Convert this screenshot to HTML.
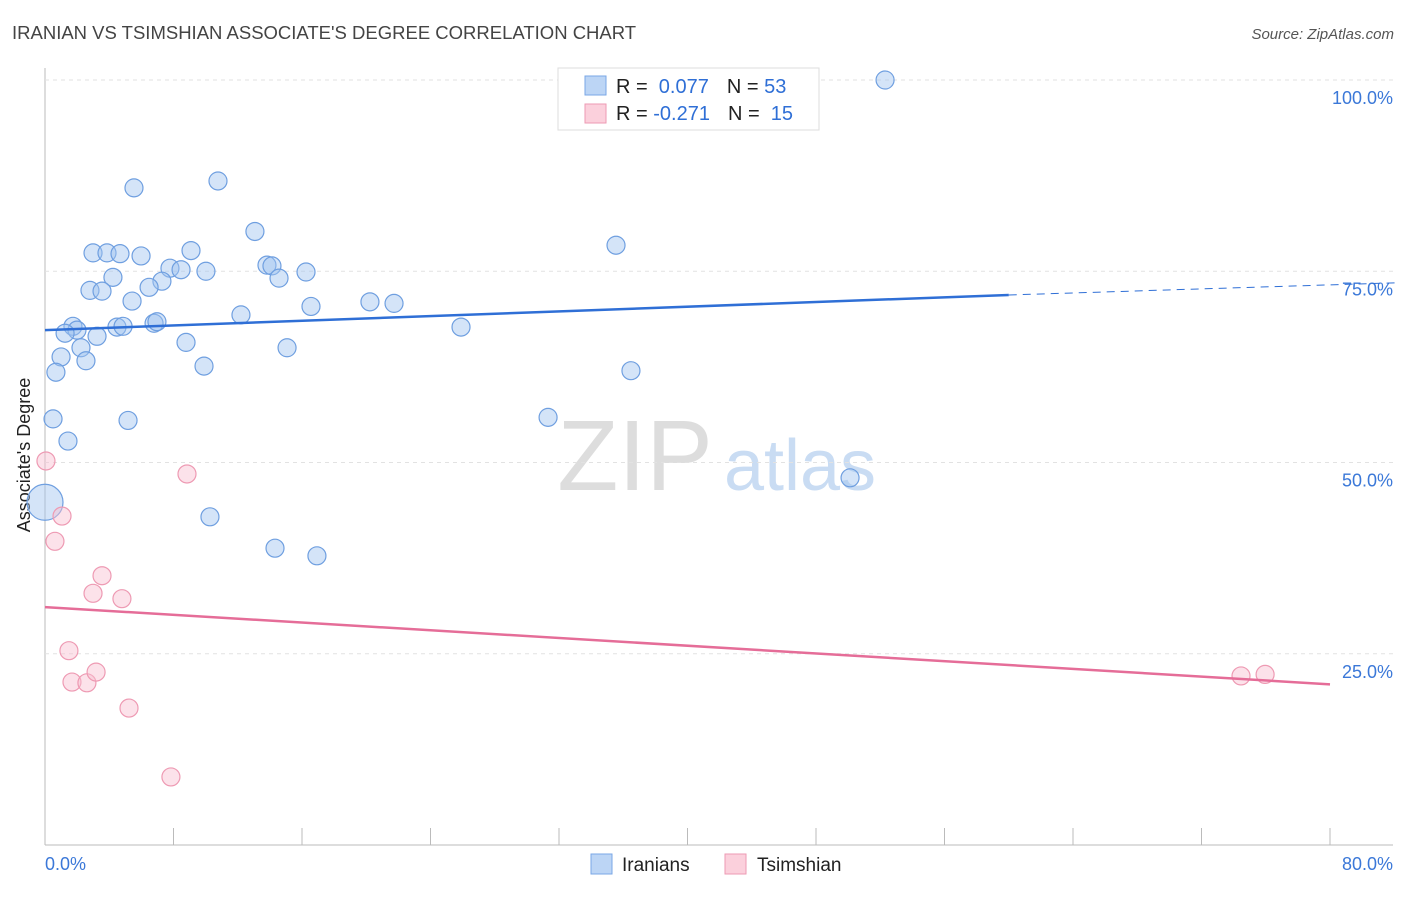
<!DOCTYPE html>
<html><head><meta charset="utf-8"><style>
body{margin:0;background:#fff;font-family:"Liberation Sans",sans-serif}
svg text{font-family:"Liberation Sans",sans-serif}
</style></head><body>
<svg id="c" width="1406" height="892" xmlns="http://www.w3.org/2000/svg">
<text x="12" y="39" font-size="18.5" fill="#444">IRANIAN VS TSIMSHIAN ASSOCIATE'S DEGREE CORRELATION CHART</text>
<text x="1394" y="39" font-size="15" fill="#555" font-style="italic" text-anchor="end">Source: ZipAtlas.com</text>
<text x="30" y="455" font-size="18" fill="#222" text-anchor="middle" transform="rotate(-90 30 455)">Associate's Degree</text>
<text x="635" y="490" font-size="100" fill="#ddd" text-anchor="middle" font-family="Liberation Serif">ZIP</text>
<text x="800" y="490" font-size="72" fill="#c9dcf3" text-anchor="middle">atlas</text>
<g id="grid"></g><g id="marks"></g>
<g>
<rect x="558" y="68" width="261" height="62" fill="#fff" stroke="#ddd"/>
<rect x="585" y="76" width="21" height="19" fill="#bcd5f5" stroke="#7aa7e6"/>
<rect x="585" y="104" width="21" height="19" fill="#fbd0dc" stroke="#ee9ab3"/>
<text x="616" y="93" font-size="20" fill="#222">R = <tspan fill="#2f6fd6">&#160;0.077</tspan><tspan dx="18">N = </tspan><tspan fill="#2f6fd6">53</tspan></text>
<text x="616" y="120" font-size="20" fill="#222">R = <tspan fill="#2f6fd6">-0.271</tspan><tspan dx="18">N = </tspan><tspan fill="#2f6fd6">&#160;15</tspan></text>
</g>
<g>
<rect x="591" y="854" width="21" height="20" fill="#bcd5f5" stroke="#7aa7e6"/>
<text x="622" y="871" font-size="19" fill="#222">Iranians</text>
<rect x="725" y="854" width="21" height="20" fill="#fbd0dc" stroke="#ee9ab3"/>
<text x="757" y="871" font-size="19" fill="#222">Tsimshian</text>
</g>
</svg>
<script>
const xTicks=[0,8,16,24,32,40,48,56,64,72,80];
const yTicks=[25,50,75,100];
const yTickLabels=["25.0%","50.0%","75.0%","100.0%"];
const blueX=[52.3,5.54,10.77,13.07,35.55,2.99,3.86,4.67,5.98,9.09,7.78,8.47,10.02,13.82,14.13,16.25,14.57,4.23,7.28,6.48,2.80,3.55,5.42,16.56,20.23,21.73,12.20,6.79,6.97,4.48,4.86,1.74,1.99,1.25,3.24,25.90,8.78,15.07,2.24,1.00,2.55,9.90,0.68,36.48,0.50,5.17,31.32,1.43,50.12,0,10.27,14.32,16.93];
const blueY=[100.0,85.9,86.8,80.2,78.4,77.4,77.4,77.3,77.0,77.7,75.4,75.2,75.0,75.8,75.7,74.9,74.1,74.2,73.7,72.9,72.5,72.4,71.1,70.4,71.0,70.8,69.3,68.2,68.4,67.7,67.8,67.8,67.3,66.9,66.5,67.7,65.7,65.0,65.0,63.8,63.3,62.6,61.8,62.0,55.7,55.5,55.9,52.8,48.0,44.8,42.9,38.8,37.8];
const pinkX=[0.06,8.84,1.06,0.62,3.55,2.99,4.79,1.49,1.68,2.61,3.18,5.23,7.84,74.46,75.96];
const pinkY=[50.2,48.5,43.0,39.7,35.2,32.9,32.2,25.4,21.3,21.2,22.6,17.9,8.9,22.1,22.3];
const blueTrend=[67.3,71.9,73.5]; // at x=0,60,84.2
const pinkTrend=[31.1,21.0]; // at x=0,80
const X=v=>45+v*1285/80, Y=v=>845-v*7.65;
const NS="http://www.w3.org/2000/svg";
function mk(t,a,p){const e=document.createElementNS(NS,t);for(const k in a)e.setAttribute(k,a[k]);p.appendChild(e);return e;}
const g=document.getElementById('grid'), m=document.getElementById('marks');
let e=mk('line',{x1:45,y1:68,x2:45,y2:845,stroke:'#bbb'},g);


e=mk('line',{x1:45,y1:845,x2:1393,y2:845,stroke:'#bbb'},g);


yTicks.forEach((t,i)=>{
 let l=mk('line',{x1:45,y1:Y(t),x2:1393,y2:Y(t),stroke:'#e2e2e2','stroke-dasharray':'4 4'},g);
 
 
 let tx=mk('text',{x:1393,y:Y(t)+24,'font-size':18,fill:'#3b78d8','text-anchor':'end'},g);
 tx.textContent=yTickLabels[i];
 
 
});
xTicks.forEach(t=>{
 let l=mk('line',{x1:X(t),y1:828,x2:X(t),y2:845,stroke:'#bbb'},g);
 
 
});
e=mk('text',{x:45,y:870,'font-size':18,fill:'#3b78d8'},g);e.textContent='0.0%';


e=mk('text',{x:1393,y:870,'font-size':18,fill:'#3b78d8','text-anchor':'end'},g);e.textContent='80.0%';


blueX.forEach((v,i)=>{
 let c=mk('circle',{cx:X(v),cy:Y(blueY[i]),r:(v===0?18:9),fill:'rgba(160,195,240,0.45)',stroke:'#6f9fe0','stroke-width':1.2},m);
 
 
});
pinkX.forEach((v,i)=>{
 let c=mk('circle',{cx:X(v),cy:Y(pinkY[i]),r:9,fill:'rgba(248,190,208,0.45)',stroke:'#ee9ab3','stroke-width':1.2},m);
 
 
});
e=mk('line',{x1:X(0),y1:Y(blueTrend[0]),x2:X(60),y2:Y(blueTrend[1]),stroke:'#2f6fd6','stroke-width':2.5},m);


e=mk('line',{x1:X(60),y1:Y(blueTrend[1]),x2:X(84.2),y2:Y(blueTrend[2]),stroke:'#2f6fd6','stroke-width':1,'stroke-dasharray':'8 6'},m);


e=mk('line',{x1:X(0),y1:Y(pinkTrend[0]),x2:X(80),y2:Y(pinkTrend[1]),stroke:'#e56d98','stroke-width':2.5},m);


</script>
</body></html>
